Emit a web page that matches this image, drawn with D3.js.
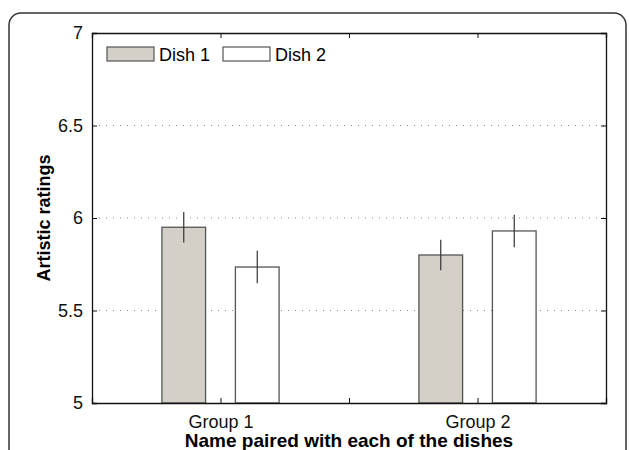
<!DOCTYPE html>
<html>
<head>
<meta charset="UTF-8" />
<title>Artistic ratings</title>
<script src="https://cdn.jsdelivr.net/npm/d3@7"></script>
<style>
  body { margin: 0; background: #fff; }
  text { font-family: "Liberation Sans", Arial, Helvetica, sans-serif; }
</style>
</head>
<body>
<script>
// data
var groups = ["Group 1", "Group 2"];
var series = ["Dish 1", "Dish 2"];
var dish1 = [5.95, 5.80];
var dish2 = [5.735, 5.93];
var err1 = [0.083, 0.083];
var err2 = [0.088, 0.088];
var yTicks = [5, 5.5, 6, 6.5, 7];
var gridTicks = [5.5, 6, 6.5];
var fills = ["#d4d0c8", "#ffffff"];

var W = 629, H = 450;
var m = { left: 92, right: 23, top: 33, bottom: 47 };

var svg = d3.select("body").append("svg")
  .attr("width", W).attr("height", H);

// outer rounded frame
svg.append("rect")
  .attr("x", 9).attr("y", 13)
  .attr("width", 617).attr("height", 500)
  .attr("rx", 12).attr("ry", 12)
  .attr("fill", "none")
  .attr("stroke", "#333")
  .attr("stroke-width", 1.5);

var x = d3.scaleLinear().domain([0.5, 2.5]).range([m.left, W - m.right]);
var y = d3.scaleLinear().domain([5, 7]).range([H - m.bottom, m.top]);

var offset = 0.143, bw = 0.17;

// dotted grid
svg.append("g").selectAll("line").data(gridTicks).enter().append("line")
  .attr("x1", x(0.5)).attr("x2", x(2.5))
  .attr("y1", function (d) { return y(d); })
  .attr("y2", function (d) { return y(d); })
  .attr("stroke", "#888")
  .attr("stroke-width", 1)
  .attr("stroke-dasharray", "1,6");

var rows = [];
groups.forEach(function (g, i) {
  rows.push({ s: 0, x: i + 1 - offset, v: dish1[i], e: err1[i] });
  rows.push({ s: 1, x: i + 1 + offset, v: dish2[i], e: err2[i] });
});

svg.append("g").selectAll("rect").data(rows).enter().append("rect")
  .attr("x", function (d) { return x(d.x - bw / 2); })
  .attr("width", function (d) { return x(d.x + bw / 2) - x(d.x - bw / 2); })
  .attr("y", function (d) { return y(d.v); })
  .attr("height", function (d) { return y(5) - y(d.v); })
  .attr("fill", function (d) { return fills[d.s]; })
  .attr("stroke", "#555")
  .attr("stroke-width", 1.3);

// error bars (no caps)
svg.append("g").selectAll("line").data(rows).enter().append("line")
  .attr("x1", function (d) { return x(d.x); })
  .attr("x2", function (d) { return x(d.x); })
  .attr("y1", function (d) { return y(d.v + d.e); })
  .attr("y2", function (d) { return y(d.v - d.e); })
  .attr("stroke", "#333")
  .attr("stroke-width", 1.2);

// axes
var yl = svg.append("g").attr("transform", "translate(" + m.left + ",0)")
  .call(d3.axisLeft(y).tickValues(yTicks).tickSize(-5).tickPadding(9)
    .tickFormat(d3.format("")));
var yr = svg.append("g").attr("transform", "translate(" + (W - m.right) + ",0)")
  .call(d3.axisRight(y).tickValues(yTicks).tickSize(-5).tickFormat(""));
var xb = svg.append("g").attr("transform", "translate(0," + (H - m.bottom) + ")")
  .call(d3.axisBottom(x).tickValues([1, 1.5, 2]).tickSize(-5).tickPadding(12)
    .tickFormat(function (d) { return d === 1 ? groups[0] : d === 2 ? groups[1] : ""; }));
var xt = svg.append("g").attr("transform", "translate(0," + m.top + ")")
  .call(d3.axisTop(x).tickValues([1, 1.5, 2]).tickSize(-5).tickFormat(""));

[yl, yr, xb, xt].forEach(function (a) {
  a.select(".domain").attr("stroke", "#111").attr("stroke-width", 1.3);
  a.selectAll(".tick line").attr("stroke", "#111");
  a.attr("font-size", 18).attr("font-family", "Liberation Sans, Arial, sans-serif");
  a.selectAll("text").attr("fill", "#111");
});

// axis titles
svg.append("text")
  .attr("transform", "translate(50," + y(6) + ") rotate(-90)")
  .attr("text-anchor", "middle")
  .attr("font-size", 18).attr("font-weight", "bold")
  .text("Artistic ratings");

svg.append("text")
  .attr("x", x(1.5)).attr("y", 447)
  .attr("text-anchor", "middle")
  .attr("font-size", 19).attr("font-weight", "bold")
  .text("Name paired with each of the dishes");

// legend
var lg = svg.append("g");
var lx = [107, 223];
series.forEach(function (s, i) {
  lg.append("rect")
    .attr("x", lx[i]).attr("y", 47)
    .attr("width", 47).attr("height", 14)
    .attr("fill", fills[i])
    .attr("stroke", "#555").attr("stroke-width", 1.2);
  lg.append("text")
    .attr("x", lx[i] + 52).attr("y", 61)
    .attr("font-size", 18)
    .text(s);
});
</script>
</body>
</html>
